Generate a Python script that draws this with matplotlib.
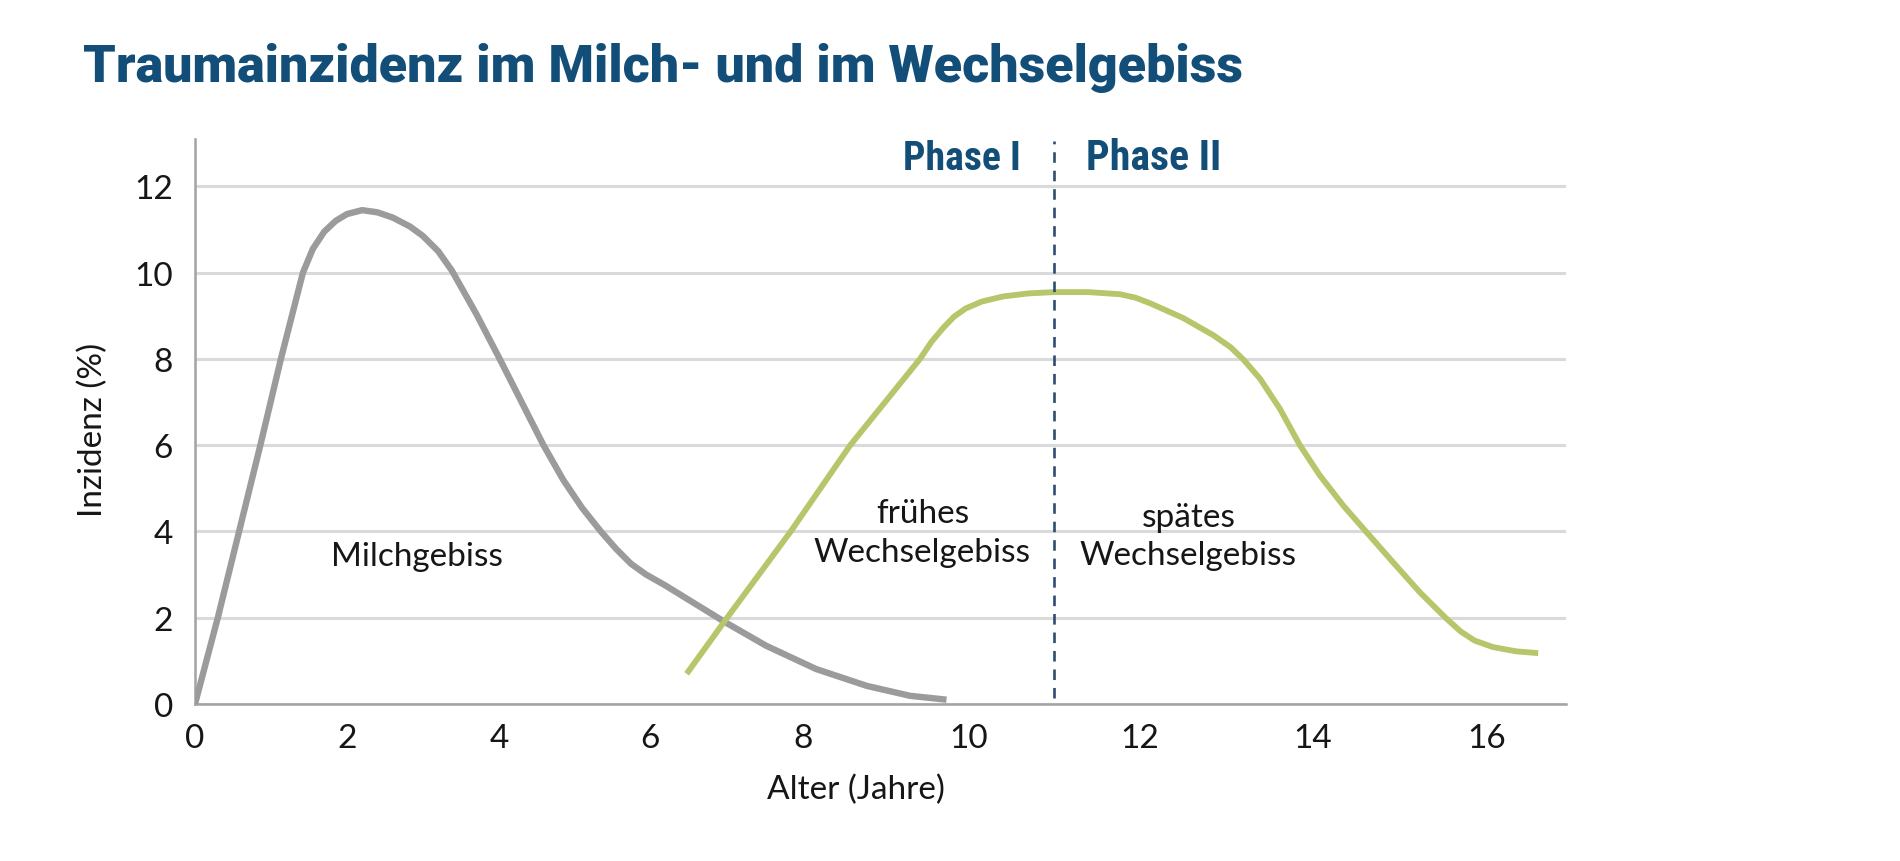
import numpy as np
import matplotlib
matplotlib.use("Agg")
import matplotlib.pyplot as plt
from matplotlib import font_manager

# ---------------- data ----------------
milch_x = [0.0, 0.30, 0.58, 0.86, 1.13, 1.42, 1.55, 1.70, 1.85, 2.00, 2.20, 2.40,
           2.60, 2.83, 3.00, 3.20, 3.38, 3.70, 4.01, 4.30, 4.59, 4.85, 5.10, 5.35,
           5.55, 5.75, 5.95, 6.20, 6.42, 6.98, 7.52, 8.16, 8.77, 9.29, 9.73]
milch_y = [0.0, 2.0, 4.0, 6.0, 8.0, 10.0, 10.55, 10.95, 11.20, 11.36, 11.45, 11.40,
           11.28, 11.07, 10.85, 10.50, 10.05, 9.05, 8.0, 7.0, 6.0, 5.2, 4.55, 4.0,
           3.60, 3.25, 3.0, 2.75, 2.51, 1.90, 1.35, 0.81, 0.42, 0.19, 0.10]

wechsel_x = [6.48, 6.98, 7.84, 8.57, 9.41, 9.55, 9.69, 9.82, 9.96, 10.15, 10.40,
             10.70, 11.00, 11.40, 11.77, 11.95, 12.12, 12.50, 12.85, 13.05, 13.20,
             13.39, 13.62, 13.85, 14.08, 14.35, 14.61, 14.92, 15.23, 15.53, 15.70,
             15.86, 16.07, 16.34, 16.59]
wechsel_y = [0.70, 1.93, 4.0, 6.0, 8.0, 8.40, 8.72, 8.98, 9.17, 9.33, 9.45,
             9.52, 9.55, 9.55, 9.50, 9.42, 9.29, 8.95, 8.55, 8.27, 7.98,
             7.54, 6.84, 6.0, 5.30, 4.60, 4.0, 3.29, 2.59, 1.99, 1.68,
             1.47, 1.32, 1.22, 1.18]

x_ticks = [0, 2, 4, 6, 8, 10, 12, 14, 16]
y_ticks = [0, 2, 4, 6, 8, 10, 12]
phase_boundary = 11

title = "Traumainzidenz im Milch- und im Wechselgebiss"
x_label = "Alter (Jahre)"
y_label = "Inzidenz (%)"
phase_labels = ["Phase I", "Phase II"]
ann_milch = "Milchgebiss"
ann_early = "frühes\nWechselgebiss"
ann_late = "spätes\nWechselgebiss"

# ---------------- the (slightly non-uniform) x scale of the original ----------------
TICK_PIX = [195, 347, 499, 650, 803, 969, 1140, 1313, 1487]


def fwd(x):
    x = np.asarray(x, dtype=float)
    out = np.interp(x, x_ticks, TICK_PIX)
    out = np.where(x < x_ticks[0], TICK_PIX[0] + (x - x_ticks[0]) * 76.0, out)
    out = np.where(x > x_ticks[-1], TICK_PIX[-1] + (x - x_ticks[-1]) * 87.0, out)
    return out


def inv(p):
    p = np.asarray(p, dtype=float)
    out = np.interp(p, TICK_PIX, x_ticks)
    out = np.where(p < TICK_PIX[0], x_ticks[0] + (p - TICK_PIX[0]) / 76.0, out)
    out = np.where(p > TICK_PIX[-1], x_ticks[-1] + (p - TICK_PIX[-1]) / 87.0, out)
    return out


# ---------------- fonts ----------------
available = {f.name for f in font_manager.fontManager.ttflist}


def pick(cands):
    for c in cands:
        if c in available:
            return c
    return "DejaVu Sans"


body_font = pick(["Lato", "Open Sans", "DejaVu Sans"])
cond_font = pick(["Roboto Condensed", "Liberation Sans Narrow", "Open Sans Condensed",
                  "Lato", "DejaVu Sans"])
title_font = pick(["Roboto", "Lato", "DejaVu Sans"])
plt.rcParams["font.family"] = [body_font, "DejaVu Sans"]

GRAY = "#9b9b9b"
GREEN = "#b5c66b"
BLUE = "#124e78"
TEXT = "#161616"

W, H = 1900, 862
fig = plt.figure(figsize=(W / 100, H / 100), dpi=100, facecolor="white")
ax = fig.add_axes([195 / W, 1 - 705 / H, (1566 - 195) / W, (705 - 140) / H])
ax.set_xscale("function", functions=(fwd, inv))
ax.set_xlim(0, 16.91)
ax.set_ylim(0, 13.1)

ax.set_xticks(x_ticks)
ax.set_yticks(y_ticks)
ax.tick_params(axis="both", length=0, labelsize=24, labelcolor=TEXT)
ax.tick_params(axis="x", pad=14)
ax.tick_params(axis="y", pad=16)
ax.grid(axis="y", color="#dadada", lw=2.2)
ax.grid(axis="x", visible=False)
ax.set_axisbelow(True)
for s in ["top", "right"]:
    ax.spines[s].set_visible(False)
for s in ["left", "bottom"]:
    ax.spines[s].set_color("#a3a3a3")
    ax.spines[s].set_linewidth(1.8)

ax.plot(milch_x, milch_y, color=GRAY, lw=4.6, solid_capstyle="butt",
        solid_joinstyle="round", zorder=3)
ax.plot(wechsel_x, wechsel_y, color=GREEN, lw=4.2, solid_capstyle="butt",
        solid_joinstyle="round", zorder=3)

ax.vlines(phase_boundary, 0.15, 13.05, colors="#2d4c70", lw=1.9,
          linestyles=(0, (4.0, 3.0)), zorder=4)

ax.set_xlabel(x_label, fontsize=24, color=TEXT, va="center")
ax.xaxis.set_label_coords((856 - 195) / (1566 - 195), -(790 - 705) / (705 - 140))
ax.set_ylabel(y_label, fontsize=24, color=TEXT, va="center")
ax.yaxis.set_label_coords((93 - 195) / (1566 - 195), (705 - 430) / (705 - 140))

ax.text(2.92, 3.43, ann_milch, fontsize=24, color=TEXT, ha="center", va="center")
ax.text(9.44, 3.98, ann_early, fontsize=24, color=TEXT, ha="center", va="center",
        linespacing=1.35)
ax.text(12.56, 3.90, ann_late, fontsize=24, color=TEXT, ha="center", va="center",
        linespacing=1.35)

p1 = ax.text(10.61, 12.66, phase_labels[0], fontsize=26, fontweight="bold",
             family=[cond_font, "DejaVu Sans"], color=BLUE, ha="right", va="center")
p2 = ax.text(11.37, 12.66, phase_labels[1], fontsize=26, fontweight="bold",
             family=[cond_font, "DejaVu Sans"], color=BLUE, ha="left", va="center")
tt = fig.text(83 / W, 1 - 82 / H, title, fontsize=32, fontweight="heavy",
              family=[title_font, "DejaVu Sans"], color=BLUE, ha="left", va="baseline")

# fit headline sizes to the widths seen in the reference
fig.canvas.draw()
r = fig.canvas.get_renderer()
for t, target, cap in [(tt, 1161, 42), (p1, 118, 34), (p2, 135, 34)]:
    w = t.get_window_extent(r).width
    fs = t.get_fontsize() * target / w
    t.set_fontsize(min(fs, cap))

fig.savefig("out.png", dpi=100, facecolor="white")
